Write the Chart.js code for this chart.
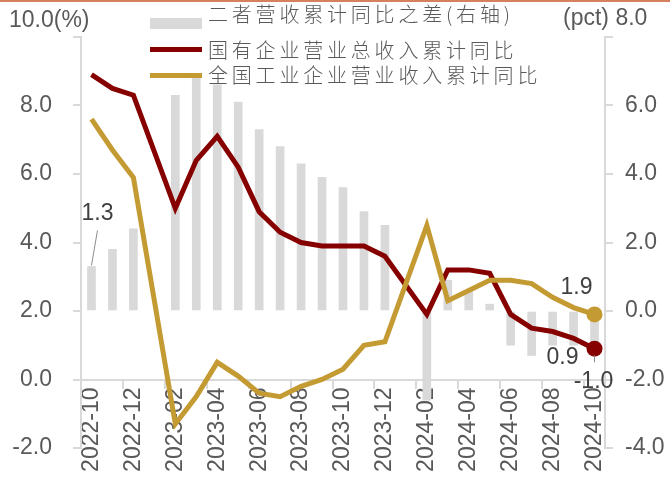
<!DOCTYPE html>
<html>
<head>
<meta charset="utf-8">
<script src="https://cdn.jsdelivr.net/npm/chart.js@4.4.1/dist/chart.umd.min.js"></script>
<style>
  html, body { margin: 0; padding: 0; background: #fff; }
  #box { width: 670px; height: 488px; }
</style>
</head>
<body>
<div id="box"><canvas id="c" width="670" height="488"></canvas></div>
<script>
// months (Jan values are not published, kept as gaps)
var months = ['2022-10','2022-11','2022-12','2023-01','2023-02','2023-03','2023-04','2023-05','2023-06',
              '2023-07','2023-08','2023-09','2023-10','2023-11','2023-12','2024-01','2024-02','2024-03',
              '2024-04','2024-05','2024-06','2024-07','2024-08','2024-09','2024-10'];
// 国有企业营业总收入累计同比 (%)
var soeRevenue = [8.9, 8.5, 8.3, null, 5.0, 6.4, 7.1, 6.2, 4.9, 4.3, 4.0, 3.9, 3.9, 3.9, 3.6, null,
                  1.9, 3.2, 3.2, 3.1, 1.9, 1.5, 1.4, 1.2, 0.9];
// 全国工业企业营业收入累计同比 (%)
var allRevenue = [7.6, 6.7, 5.9, null, -1.3, -0.5, 0.5, 0.1, -0.4, -0.5, -0.2, 0.0, 0.3, 1.0, 1.1, null,
                  4.5, 2.3, 2.6, 2.9, 2.9, 2.8, 2.4, 2.1, 1.9];
// 二者营收累计同比之差 (pct, right axis)
var gap = [1.3, 1.8, 2.4, null, 6.3, 6.9, 6.6, 6.1, 5.3, 4.8, 4.3, 3.9, 3.6, 2.9, 2.5, null,
           -2.6, 0.9, 0.6, 0.2, -1.0, -1.3, -1.0, -1.0, -1.0];

var leftTicks = { min: -2, max: 10, step: 2 };
var rightTicks = { min: -4, max: 8, step: 2 };

var RED = '#860000';
var GOLD = '#C49A33';
var BAR = '#D9D9D9';
var AXIS = '#D9D9D9';
var TXT = '#595959';
var LBL = '#404040';
var NUM_FONT = '"Liberation Sans", Arial, sans-serif';
var CJK_FONT = '"Noto Sans CJK SC", sans-serif';

var lastIdx = months.length - 1;

// legend, unit labels, value labels and the top rule
var decor = {
    id: 'decor',
    afterDatasetsDraw: function(chart) {
        var ctx = chart.ctx;
        var area = chart.chartArea;
        ctx.save();

        // top rule
        ctx.fillStyle = '#D7805F';
        ctx.fillRect(0, 0, chart.width, 2);

        // unit labels at the top of both axes
        ctx.font = '23px ' + NUM_FONT;
        ctx.fillStyle = TXT;
        ctx.textBaseline = 'middle';
        ctx.textAlign = 'left';
        ctx.fillText('10.0(%)', area.left - 72, 21);
        ctx.fillText('(pct) 8.0', area.right - 42, 19);

        // legend
        var ds = chart.data.datasets;
        var lx = 150, lw = 52, tx = 208;
        var rows = [
            { d: ds[0], y: 14, box: [18, 11] },
            { d: ds[1], y: 50, box: [47, 5] },
            { d: ds[2], y: 75, box: [73, 5] }
        ];
        ctx.font = '300 20px ' + CJK_FONT;
        ctx.letterSpacing = '3.8px';
        rows.forEach(function(r) {
            ctx.fillStyle = r.d.type === 'bar' ? r.d.backgroundColor : r.d.borderColor;
            ctx.fillRect(lx, r.box[0], lw, r.box[1]);
            ctx.fillStyle = TXT;
            ctx.fillText(r.d.label, tx, r.y);
        });
        ctx.letterSpacing = '0px';

        // value labels
        ctx.font = '23px ' + NUM_FONT;
        ctx.fillStyle = LBL;
        ctx.textAlign = 'center';
        var barMeta = chart.getDatasetMeta(0);
        var redMeta = chart.getDatasetMeta(1);
        var goldMeta = chart.getDatasetMeta(2);

        var b0 = barMeta.data[0];
        ctx.fillText(gap[0].toFixed(1), b0.x + 6, b0.y - 53);
        ctx.strokeStyle = '#8C8C8C';
        ctx.lineWidth = 1;
        ctx.beginPath();
        ctx.moveTo(b0.x + 6, b0.y - 36);
        ctx.lineTo(b0.x, b0.y - 1);
        ctx.stroke();

        var g = goldMeta.data[lastIdx];
        ctx.fillText(allRevenue[lastIdx].toFixed(1), g.x - 18, g.y - 27);
        var r = redMeta.data[lastIdx];
        ctx.fillText(soeRevenue[lastIdx].toFixed(1), r.x - 32, r.y + 9);
        var bl = barMeta.data[lastIdx];
        ctx.fillText(gap[lastIdx].toFixed(1), bl.x - 1, bl.y + 36);
        ctx.beginPath();
        ctx.moveTo(bl.x, bl.y + 10);
        ctx.lineTo(bl.x, bl.y + 17);
        ctx.stroke();

        ctx.restore();
    }
};

var endPoint = function(ctx) { return ctx.index === lastIdx ? 8 : 0; };

new Chart(document.getElementById('c'), {
    data: {
        labels: months,
        datasets: [{
            type: 'bar',
            label: '二者营收累计同比之差(右轴)',
            data: gap,
            yAxisID: 'y1',
            backgroundColor: BAR,
            barThickness: 8,
            order: 3
        }, {
            type: 'line',
            label: '国有企业营业总收入累计同比',
            data: soeRevenue,
            yAxisID: 'y',
            borderColor: RED,
            backgroundColor: RED,
            borderWidth: 5,
            tension: 0,
            spanGaps: true,
            pointRadius: endPoint,
            pointBorderWidth: 0,
            pointBackgroundColor: RED,
            order: 2
        }, {
            type: 'line',
            label: '全国工业企业营业收入累计同比',
            data: allRevenue,
            yAxisID: 'y',
            borderColor: GOLD,
            backgroundColor: GOLD,
            borderWidth: 5,
            tension: 0,
            spanGaps: true,
            pointRadius: endPoint,
            pointBorderWidth: 0,
            pointBackgroundColor: GOLD,
            order: 1
        }]
    },
    options: {
        responsive: false,
        animation: false,
        layout: { padding: { left: 13, right: 5, top: 37, bottom: 40 } },
        plugins: {
            legend: { display: false },
            tooltip: { enabled: false }
        },
        scales: {
            x: {
                type: 'category',
                offset: true,
                position: { y: 0 },
                grid: {
                    offset: true,
                    drawOnChartArea: false,
                    tickLength: 8,
                    lineWidth: 2,
                    color: function(c) { return c.index % 2 === 0 ? AXIS : 'rgba(0,0,0,0)'; }
                },
                border: { display: true, color: AXIS, width: 2 },
                ticks: {
                    autoSkip: false,
                    minRotation: 90,
                    maxRotation: 90,
                    padding: 0,
                    color: TXT,
                    font: { family: NUM_FONT, size: 23 },
                    callback: function(v, i) { return i % 2 === 0 ? months[i] : ''; }
                }
            },
            y: {
                position: 'left',
                min: leftTicks.min,
                max: leftTicks.max,
                afterFit: function(s) { s.width = 68; },
                grid: { drawOnChartArea: false, tickLength: 8, lineWidth: 2, color: AXIS },
                border: { display: true, color: AXIS, width: 2 },
                ticks: {
                    stepSize: leftTicks.step,
                    padding: 21,
                    color: TXT,
                    font: { family: NUM_FONT, size: 23 },
                    callback: function(v) { return v === leftTicks.max ? '' : v.toFixed(1); }
                }
            },
            y1: {
                position: 'right',
                min: rightTicks.min,
                max: rightTicks.max,
                afterFit: function(s) { s.width = 60; },
                grid: { drawOnChartArea: false, tickLength: 8, lineWidth: 2, color: AXIS },
                border: { display: true, color: AXIS, width: 2 },
                ticks: {
                    stepSize: rightTicks.step,
                    padding: 12,
                    color: TXT,
                    font: { family: NUM_FONT, size: 23 },
                    callback: function(v) { return v === rightTicks.max ? '' : v.toFixed(1); }
                }
            }
        }
    },
    plugins: [decor]
});
</script>
</body>
</html>
